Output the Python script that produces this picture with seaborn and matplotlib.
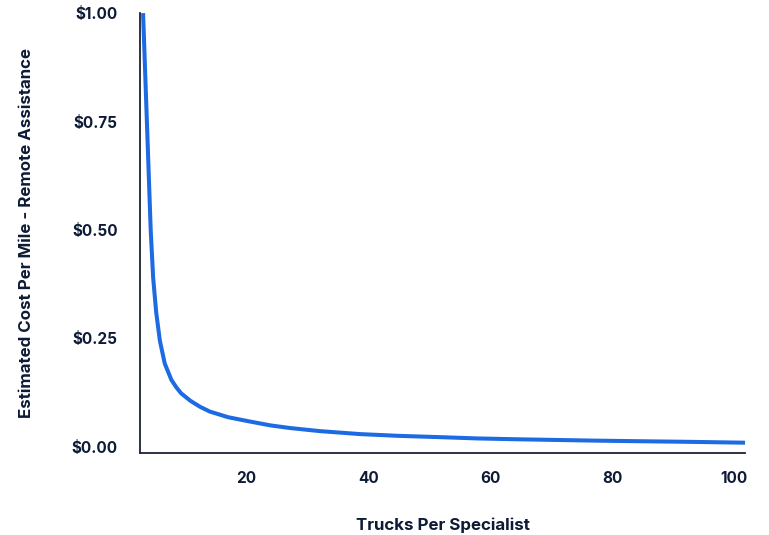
import pandas as pd
import seaborn as sns
import matplotlib.pyplot as plt
from matplotlib.ticker import FuncFormatter

# values
trucks = [3.05, 3.5, 3.9, 4.3, 4.7, 5.2, 5.8, 6.6, 7.7, 8.5, 9.3, 10.8,
          12.4, 14.0, 17.0, 20.6, 24.0, 27.2, 32.0, 38.7, 45.0, 51.8,
          58.0, 64.9, 71.0, 77.2, 84.0, 91.1, 96.0, 101.9]
cost = [1.0, 0.82, 0.66, 0.50, 0.39, 0.31, 0.245, 0.192, 0.154, 0.137,
        0.123, 0.106, 0.092, 0.081, 0.068, 0.058, 0.049, 0.043, 0.036,
        0.029, 0.025, 0.022, 0.019, 0.017, 0.0155, 0.014, 0.0127, 0.0115,
        0.0105, 0.0092]
x_ticks = [20, 40, 60, 80, 100]
y_ticks = [0.0, 0.25, 0.5, 0.75, 1.0]

df = pd.DataFrame({"trucks": trucks, "cost": cost})

sns.set_style("white")
plt.rcParams["font.family"] = ["Inter", "DejaVu Sans"]

navy = "#0e1b36"
fig = plt.figure(figsize=(7.69, 5.35), dpi=100)
ax = fig.add_axes([0.1817, 0.1542, 0.7877, 0.8213])

sns.lineplot(data=df, x="trucks", y="cost", ax=ax, color="#1c6be3",
             linewidth=2.9, solid_joinstyle="round", solid_capstyle="butt")

ax.set_xlim(2.5, 101.9)
ax.set_ylim(-0.0134, 1.0)
ax.set_xticks(x_ticks)
ax.set_yticks(y_ticks)
ax.yaxis.set_major_formatter(FuncFormatter(lambda v, p: f"${v:.2f}"))

ax.tick_params(axis="both", length=0, labelsize=11, labelcolor=navy)
ax.tick_params(axis="y", pad=16)
ax.tick_params(axis="x", pad=13)
for lab in ax.get_xticklabels() + ax.get_yticklabels():
    lab.set_fontweight("bold")

ax.set_xlabel("Trucks Per Specialist", fontsize=12.2, fontweight="bold",
              color=navy, labelpad=23)
ax.set_ylabel("Estimated Cost Per Mile - Remote Assistance", fontsize=12.2,
              fontweight="bold", color=navy, labelpad=27)

sns.despine(ax=ax)
for side in ["left", "bottom"]:
    ax.spines[side].set_color("#1b2233")
    ax.spines[side].set_linewidth(1.3)

fig.savefig("out.png", dpi=100)
